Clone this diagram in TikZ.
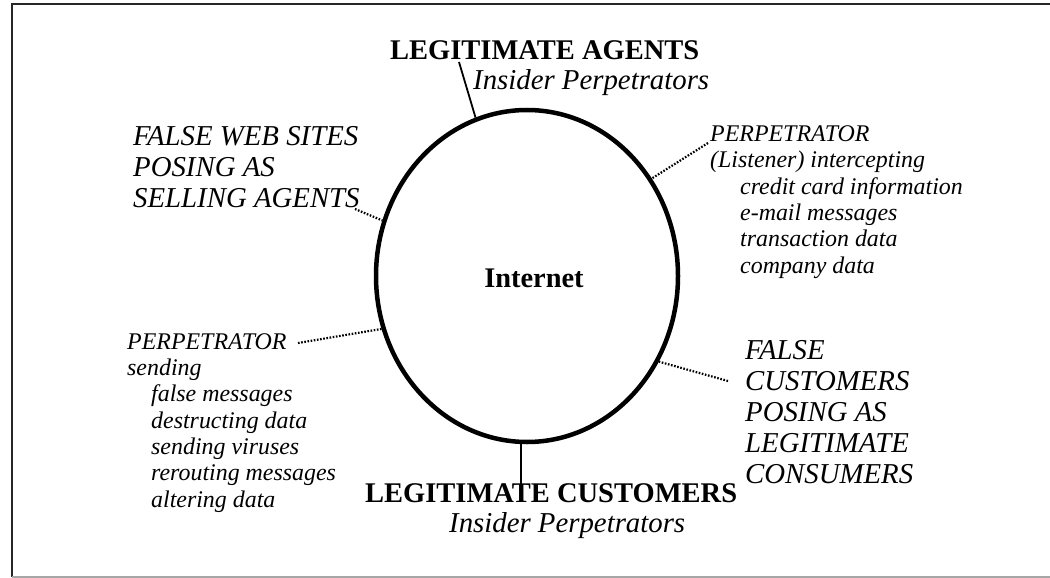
\documentclass[tikz,border=0pt]{standalone}
\usepackage{fontspec}
\setmainfont{Liberation Serif}
\usetikzlibrary{shapes.geometric}
\tikzset{
  bigbold/.style={font=\fontsize{28.5}{31}\selectfont\bfseries, inner sep=0pt, anchor=base west},
  bigital/.style={font=\fontsize{28.8}{31}\selectfont\itshape, inner sep=0pt, anchor=base west, align=left},
  smallital/.style={font=\fontsize{23.9}{26.3}\selectfont\itshape, inner sep=0pt, anchor=base west, align=left},
  solidlink/.style={line width=1.8pt},
  dotlink/.style={line width=2.2pt, dash pattern=on 1.6pt off 1.6pt},
  framedark/.style={line width=1.8pt, black!85},
  framelight/.style={line width=1.2pt, black!35},
}
\begin{document}
\begin{tikzpicture}[x=1pt,y=-1pt]
\useasboundingbox (0,0) rectangle (1050,578);
% frame
\coordinate (f1) at (12,4);
\coordinate (f2) at (1050,4);
\coordinate (f3) at (12,577);
\coordinate (f4) at (1050,577);
\draw[framedark] (f2) -- (f1) -- (f3);
\draw[framelight] (12,577) -- (f4);
% ellipse
\node[ellipse, draw, line width=4.5pt, minimum width=302pt, minimum height=332pt, inner sep=0pt] (net) at (527,276) {};
\node[font=\fontsize{28.4}{30}\selectfont\bfseries, inner sep=0pt, anchor=base] (inet) at (534,287) {Internet};
% top
\node[bigbold] (agents) at (390,60) {LEGITIMATE AGENTS};
\node[bigital] (ins1) at (473,90) {Insider Perpetrators};
\coordinate (ta) at (459,62);
\draw[solidlink] (ta) -- (net.108.9);
% false web sites
\node[bigital] (fws) at (133,207) {FALSE WEB SITES\\POSING AS\\SELLING AGENTS};
\coordinate (fa) at (355,209);
\draw[dotlink] (fa) -- (net.159);
% listener
\node[smallital] (lis) at (710,273) {PERPETRATOR\\(Listener) intercepting\\\hspace*{30pt}credit card information\\\hspace*{30pt}e-mail messages\\\hspace*{30pt}transaction data\\\hspace*{30pt}company data};
\coordinate (la) at (708,143);
\draw[dotlink] (la) -- (net.38.8);
% sending
\node[smallital] (snd) at (127,507) {PERPETRATOR\\sending\\\hspace*{24pt}false messages\\\hspace*{24pt}destructing data\\\hspace*{24pt}sending viruses\\\hspace*{24pt}rerouting messages\\\hspace*{24pt}altering data};
\coordinate (sa) at (298,343);
\draw[dotlink] (sa) -- (net.200.6);
% false customers
\node[bigital] (fc) at (745,483) {FALSE\\CUSTOMERS\\POSING AS\\LEGITIMATE\\CONSUMERS};
\coordinate (ca) at (728,381);
\draw[dotlink] (ca) -- (net.-33.9);
% bottom
\node[bigbold] (cust) at (365,502) {LEGITIMATE CUSTOMERS};
\node[bigital] (ins2) at (449,532) {Insider Perpetrators};
\coordinate (cb) at (520,485);
\draw[solidlink] (net.268) -- (net.268 |- cb);
\end{tikzpicture}
\end{document}
